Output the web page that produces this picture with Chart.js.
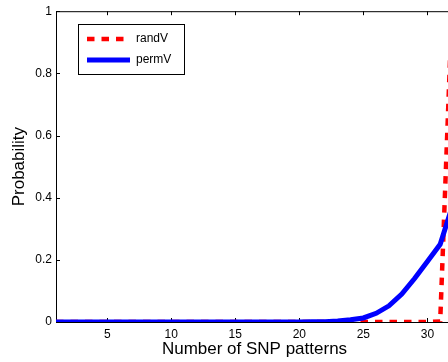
<!DOCTYPE html>
<html>
<head>
<meta charset="utf-8">
<script src="https://cdn.jsdelivr.net/npm/chart.js@4/dist/chart.umd.min.js"></script>
<style>
  html, body { margin: 0; padding: 0; background: #fff; overflow: hidden; }
  #wrap { position: relative; width: 470px; height: 362px; }
</style>
</head>
<body>
<div id="wrap"><canvas id="snpChart"></canvas></div>
<script>
// ===== Data =====
const patterns = [1, 2, 3, 4, 5, 6, 7, 8, 9, 10, 11, 12, 13, 14, 15, 16,
                  17, 18, 19, 20, 21, 22, 23, 24, 25, 26, 27, 28, 29, 30, 31, 32];
const randV = [0, 0, 0, 0, 0, 0, 0, 0, 0, 0, 0, 0, 0, 0, 0, 0,
               0, 0, 0, 0, 0, 0, 0, 0, 0, 0, 0, 0, 0, 0, 0.002, 1.1];
const permV = [0, 0, 0, 0, 0, 0, 0, 0, 0, 0, 0, 0, 0, 0, 0, 0,
               0, 0, 0, 0, 0.0005, 0.001, 0.003, 0.007, 0.013, 0.028, 0.052, 0.09, 0.14, 0.195, 0.25, 0.38];
const xTicks = [5, 10, 15, 20, 25, 30];
const yTicks = [0, 0.2, 0.4, 0.6, 0.8, 1];

const font = "'Liberation Sans', Arial, sans-serif";
Chart.defaults.font.family = font;
Chart.defaults.color = '#000';

const toPoints = (ys) => ys.map((y, i) => ({ x: patterns[i], y }));

// ===== Box frame with inward ticks (drawn under the lines) =====
const framePlugin = {
  id: 'frame',
  beforeDatasetsDraw(chart) {
    const { ctx, chartArea: a, scales: { x, y } } = chart;
    const tl = 4;
    ctx.save();
    ctx.strokeStyle = '#000';
    ctx.lineWidth = 1;
    ctx.beginPath();
    ctx.rect(a.left + 0.5, a.top + 0.5, a.right - a.left, a.bottom - a.top);
    xTicks.forEach(v => {
      const px = Math.round(x.getPixelForValue(v)) + 0.5;
      ctx.moveTo(px, a.bottom); ctx.lineTo(px, a.bottom - tl);
      ctx.moveTo(px, a.top); ctx.lineTo(px, a.top + tl);
    });
    yTicks.forEach(v => {
      const py = Math.round(y.getPixelForValue(v)) + 0.5;
      ctx.moveTo(a.left, py); ctx.lineTo(a.left + tl, py);
      ctx.moveTo(a.right, py); ctx.lineTo(a.right - tl, py);
    });
    ctx.stroke();
    ctx.restore();
  }
};

// ===== Boxed legend in the upper left =====
const boxLegend = {
  id: 'boxLegend',
  afterDatasetsDraw(chart) {
    const { ctx } = chart;
    const bx = 78.5, by = 24.5, bw = 106, bh = 50;
    ctx.save();
    ctx.fillStyle = '#fff';
    ctx.fillRect(bx, by, bw, bh);
    ctx.strokeStyle = '#000';
    ctx.lineWidth = 1;
    ctx.strokeRect(bx, by, bw, bh);
    const rows = [{ y: 39, len: 37 }, { y: 60, len: 43 }];
    chart.data.datasets.forEach((ds, i) => {
      const r = rows[i];
      ctx.beginPath();
      ctx.strokeStyle = ds.borderColor;
      ctx.lineWidth = ds.borderWidth;
      ctx.setLineDash(ds.borderDash || []);
      ctx.moveTo(87, r.y);
      ctx.lineTo(87 + r.len, r.y);
      ctx.stroke();
      ctx.setLineDash([]);
      ctx.fillStyle = '#000';
      ctx.font = '12px ' + font;
      ctx.textBaseline = 'middle';
      ctx.fillText(ds.label, 136, r.y);
    });
    ctx.restore();
  }
};

new Chart(document.getElementById('snpChart'), {
  type: 'line',
  data: {
    datasets: [
      {
        label: 'randV',
        data: toPoints(randV),
        borderColor: '#ff0000',
        borderWidth: 4.5,
        borderDash: [7.5, 7],
        pointRadius: 0,
        tension: 0,
        order: 2
      },
      {
        label: 'permV',
        data: toPoints(permV),
        borderColor: '#0000ff',
        borderWidth: 5,
        pointRadius: 0,
        tension: 0,
        order: 1
      }
    ]
  },
  options: {
    responsive: true,
    maintainAspectRatio: false,
    animation: false,
    layout: { padding: { top: 11, right: 17, left: 0, bottom: 0 } },
    plugins: {
      legend: { display: false },
      tooltip: { enabled: false }
    },
    scales: {
      x: {
        type: 'linear',
        min: 1,
        max: 32,
        grid: { display: false, drawTicks: false },
        border: { display: false },
        afterBuildTicks: (s) => { s.ticks = xTicks.map(v => ({ value: v })); },
        afterFit: (s) => { s.height = 40; },
        ticks: { font: { size: 12 }, padding: 5, maxRotation: 0, autoSkip: false },
        title: {
          display: true,
          text: 'Number of SNP patterns',
          font: { size: 17 },
          padding: { top: 0, bottom: 2 }
        }
      },
      y: {
        min: 0,
        max: 1,
        grid: { display: false, drawTicks: false },
        border: { display: false },
        afterBuildTicks: (s) => { s.ticks = yTicks.map(v => ({ value: v })); },
        afterFit: (s) => { s.width = 56; },
        ticks: {
          font: { size: 12 },
          padding: 4,
          callback: (v) => String(Number(v.toFixed(1)))
        },
        title: {
          display: true,
          text: 'Probability',
          font: { size: 17 },
          padding: { top: 9, bottom: 0 }
        }
      }
    }
  },
  plugins: [framePlugin, boxLegend]
});
</script>
</body>
</html>
